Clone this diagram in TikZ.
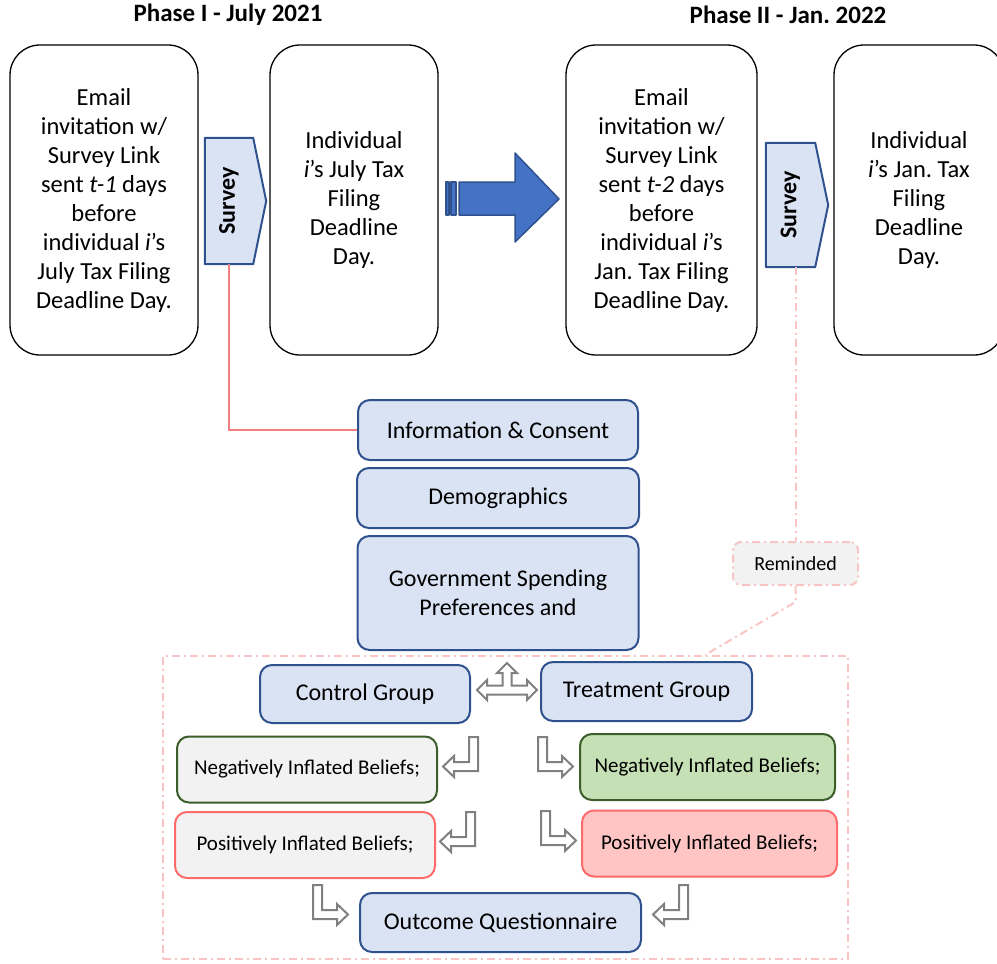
\documentclass[tikz,border=0pt]{standalone}
\usepackage{fontspec}
\setmainfont{Carlito}
\usetikzlibrary{arrows.meta,positioning}
\frenchspacing

\definecolor{boxblue}{HTML}{DAE3F3}
\definecolor{edgeblue}{HTML}{2F528F}
\definecolor{arrowblue}{HTML}{4472C4}
\definecolor{softgray}{HTML}{F2F2F2}
\definecolor{leafgreen}{HTML}{C5E0B4}
\definecolor{darkgreen}{HTML}{3B5E2B}
\definecolor{alertred}{HTML}{FF6B6B}
\definecolor{softred}{HTML}{FFC5C5}
\definecolor{linkred}{HTML}{F08080}
\definecolor{pinkdash}{HTML}{F8C4C4}
\definecolor{arrowgray}{HTML}{808080}

\begin{document}
\begin{tikzpicture}[
    x=1pt, y=-1pt,
    node distance=6pt,
    title/.style={font=\fontsize{25}{30}\selectfont\bfseries},
    stage/.style={draw=black, line width=1.3pt, rounded corners=30pt, align=center, minimum height=310pt, font=\fontsize{24.5}{29}\selectfont},
    survey/.style={minimum width=48pt, minimum height=126pt},
    surveybox/.style={draw=edgeblue, fill=boxblue, line width=2pt, line join=round},
    surveytext/.style={rotate=90, font=\fontsize{24}{28}\selectfont\bfseries},
    part/.style={draw=edgeblue, fill=boxblue, line width=2pt, rounded corners=12pt, align=center, font=\fontsize{24}{29}\selectfont},
    belief/.style={line width=2pt, rounded corners=12pt, minimum height=66pt, font=\fontsize{21}{25}\selectfont},
    hollow/.style={draw=arrowgray, fill=white, line width=2pt},
    bigarrow/.style={draw=edgeblue, fill=arrowblue, line width=1.5pt, line join=round},
    pinkline/.style={draw=pinkdash, line width=2pt, dash pattern=on 8pt off 4pt on 2pt off 4pt},
    turnleft/.pic={
      \draw[hollow] (0,0) -- (0,34) -- (-24,34) -- (-24,40) -- (-35,29.5) -- (-24,19) -- (-24,25) -- (-9,25) -- (-9,0) -- cycle;
    },
    splitarrow/.pic={
      \draw[hollow] (-30,0) -- (-20,-10) -- (-20,-4.5) -- (-4.5,-4.5) -- (-4.5,-17) -- (-10,-17) -- (0,-27) -- (10,-17) -- (4.5,-17) -- (4.5,-4.5) -- (20,-4.5) -- (20,-10) -- (30,0) -- (20,10) -- (20,4.5) -- (-20,4.5) -- (-20,10) -- cycle;
    },
    >=Latex
  ]
    \useasboundingbox (0,0) rectangle (997,964);
    \clip (0,0) rectangle (997,964);

    % phase titles
    \node[title] (phaseA) at (228,15) {Phase I - July 2021};
    \node[title] (phaseB) at (788,15) {Phase II - Jan. 2022};

    % phase I
    \node[stage, minimum width=188pt] (mailA) at (104,200) {Email\\invitation w/\\Survey Link\\sent \textit{t-1} days\\before\\individual \textit{i}'s\\July Tax Filing\\Deadline Day.};
    \node[stage, minimum width=168pt] (dueA) at (354,200) {Individual\\\textit{i}'s July Tax\\Filing\\Deadline\\Day.};
    \node[survey] (survA) at (229,201) {};
    \draw[surveybox] (survA.north west) -- (survA.north east) -- ([xshift=13pt]survA.east) -- (survA.south east) -- (survA.south west) -- cycle;
    \node[surveytext] (survAtext) at (survA) {Survey};

    % move to phase II
    \draw[bigarrow] (459,182) -- (515,182) -- (515,153) -- (559,199) -- (515,242) -- (515,215) -- (459,215) -- cycle;
    \draw[bigarrow] (446,182) rectangle (449,215);
    \draw[bigarrow] (451,182) rectangle (456,215);

    % phase II
    \node[stage, minimum width=191pt] (mailB) at (661.5,200) {Email\\invitation w/\\Survey Link\\sent \textit{t-2} days\\before\\individual \textit{i}'s\\Jan. Tax Filing\\Deadline Day.};
    \node[stage, minimum width=170pt] (dueB) at (919,200) {Individual\\\textit{i}'s Jan. Tax\\Filing\\Deadline\\Day.};
    \node[survey, minimum width=49pt, minimum height=124pt] (survB) at (790.5,205) {};
    \draw[surveybox] (survB.north west) -- (survB.north east) -- ([xshift=13pt]survB.east) -- (survB.south east) -- (survB.south west) -- cycle;
    \node[surveytext] (survBtext) at (survB) {Survey};

    % survey contents
    \node[part, minimum width=280pt, minimum height=60pt] (info) at (498,430) {Information \& Consent};
    \node[part, minimum width=282pt, minimum height=60pt, below=6pt of info] (demo) {Demographics};
    \node[part, minimum width=281pt, minimum height=114pt, below=6pt of demo] (prefs) {Government Spending\\Preferences and};
    \draw[linkred, line width=1.5pt] (survA.south) |- (info.west);

    % experiment
    \node[pinkline, minimum width=685pt, minimum height=303pt] (grp) at (505.5,807.5) {};
    \coordinate (grptop) at (705,655);
    \node[pinkline, fill=softgray, rounded corners=8pt, minimum width=125pt, minimum height=43pt, font=\fontsize{20}{24}\selectfont] (remind) at (795.5,563.5) {Reminded};
    \draw[pinkline] (remind.north |- survB.south) -- (remind.north);
    \draw[pinkline] (remind.south) -- ++(0,16) -- (grptop);

    \node[part, minimum width=210pt, minimum height=58pt] (control) at (365,694) {Control Group};
    \node[part, minimum width=211pt, minimum height=59pt] (treat) at (646.5,691.5) {Treatment Group};
    \pic at (507,690) {splitarrow};

    \node[belief, draw=darkgreen, fill=softgray, minimum width=260pt] (negA) at (307,769.5) {Negatively Inflated Beliefs;};
    \node[belief, draw=darkgreen, fill=leafgreen, minimum width=255pt] (negB) at (707.5,767) {Negatively Inflated Beliefs;};
    \node[belief, draw=alertred, fill=softgray, minimum width=260pt] (posA) at (305,845) {Positively Inflated Beliefs;};
    \node[belief, draw=alertred, fill=softred, minimum width=255pt] (posB) at (709.5,843.5) {Positively Inflated Beliefs;};
    \node[part, minimum width=281pt, minimum height=59pt] (outcome) at (500.5,922.5) {Outcome Questionnaire};

    \pic at (478,737) {turnleft};
    \pic at (475,812) {turnleft};
    \pic[xscale=-1] at (538,737) {turnleft};
    \pic[xscale=-1] at (541,811) {turnleft};
    \pic[xscale=-1] at (313,885) {turnleft};
    \pic at (688,885) {turnleft};
  \end{tikzpicture}
\end{document}
